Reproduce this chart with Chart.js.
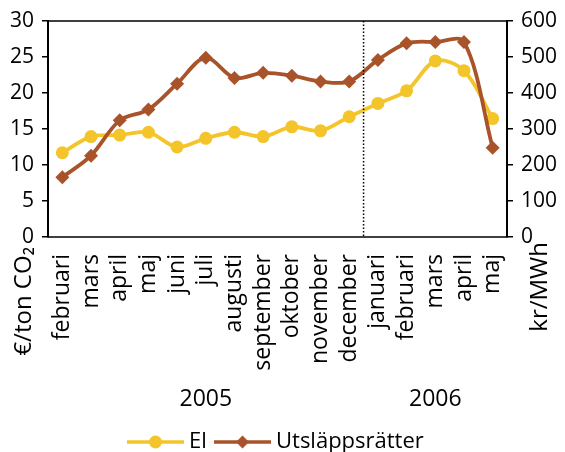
<!DOCTYPE html>
<html>
<head>
<meta charset="utf-8">
<script src="https://cdn.jsdelivr.net/npm/chart.js@4/dist/chart.umd.min.js"></script>
<style>
  html, body { margin: 0; padding: 0; background: #fff; }
  #wrap { width: 565px; height: 452px; position: relative; }
</style>
</head>
<body>
<div id="wrap"><canvas id="myChart"></canvas></div>
<script>
var months = ['februari', 'mars', 'april', 'maj', 'juni', 'juli', 'augusti', 'september',
              'oktober', 'november', 'december', 'januari', 'februari', 'mars', 'april', 'maj'];
// year label and how many months belong to it
var years = ['2005', '2006'];
var yearSpans = [11, 5];

var utslapp = [8.3, 11.3, 16.2, 17.7, 21.3, 24.9, 22.1, 22.8, 22.4, 21.6, 21.6, 24.6, 26.9, 27.1, 27.1, 12.4];
var el = [234, 279, 283, 291, 250, 274, 291, 279, 306, 295, 334, 371, 406, 489, 462, 329];

var leftTicks = [0, 5, 10, 15, 20, 25, 30];
var rightTicks = [0, 100, 200, 300, 400, 500, 600];

var YELLOW = '#F4C52A';
var BROWN = '#A9532A';
var FONT = "'Open Sans', sans-serif";

var extras = {
    id: 'extras',
    afterDatasetsDraw: function (chart) {
        var ctx = chart.ctx, a = chart.chartArea, x = chart.scales.x;
        ctx.save();
        // frame
        ctx.strokeStyle = '#000';
        ctx.lineWidth = 1.5;
        ctx.strokeRect(a.left, a.top, a.right - a.left, a.bottom - a.top);
        // dotted divider between the years
        var xd = (x.getPixelForValue(yearSpans[0] - 1) + x.getPixelForValue(yearSpans[0])) / 2;
        ctx.setLineDash([1.5, 2]);
        ctx.beginPath();
        ctx.moveTo(xd, a.top);
        ctx.lineTo(xd, a.bottom);
        ctx.stroke();
        ctx.restore();
    },
    afterDraw: function (chart) {
        var ctx = chart.ctx, x = chart.scales.x;
        ctx.save();
        ctx.fillStyle = '#000';
        ctx.font = '24px ' + FONT;
        // rotated axis titles
        ctx.textAlign = 'right';
        ctx.textBaseline = 'middle';
        [['€/ton CO₂', 24, 247], ['kr/MWh', 540, 242]].forEach(function (t) {
            ctx.save();
            ctx.translate(t[1], t[2]);
            ctx.rotate(-Math.PI / 2);
            ctx.fillText(t[0], 0, 0);
            ctx.restore();
        });
        // year labels
        ctx.font = '23px ' + FONT;
        ctx.textAlign = 'center';
        var start = 0;
        years.forEach(function (y, i) {
            var end = start + yearSpans[i] - 1;
            var cx = (x.getPixelForValue(start) + x.getPixelForValue(end)) / 2;
            ctx.fillText(y, cx, 399);
            start = end + 1;
        });
        // legend
        var items = [
            { label: 'El', color: YELLOW, style: 'circle', x0: 127 },
            { label: 'Utsläppsrätter', color: BROWN, style: 'rectRot', x0: 214 }
        ];
        var ly = 442;
        ctx.font = '22px ' + FONT;
        ctx.textAlign = 'left';
        items.forEach(function (it) {
            ctx.strokeStyle = it.color;
            ctx.lineWidth = 3.5;
            ctx.beginPath();
            ctx.moveTo(it.x0, ly);
            ctx.lineTo(it.x0 + 57, ly);
            ctx.stroke();
            ctx.fillStyle = it.color;
            Chart.helpers.drawPoint(ctx, { pointStyle: it.style, radius: 6.5, borderWidth: 0 }, it.x0 + 28.5, ly);
            ctx.fillStyle = '#000';
            ctx.fillText(it.label, it.x0 + 62, ly);
        });
        ctx.restore();
    }
};

var ctx = document.getElementById('myChart').getContext('2d');
var myChart = new Chart(ctx, {
    type: 'line',
    data: {
        labels: months,
        datasets: [{
            label: 'Utsläppsrätter',
            data: utslapp,
            yAxisID: 'y',
            borderColor: BROWN,
            backgroundColor: BROWN,
            borderWidth: 3.8,
            pointStyle: 'rectRot',
            pointRadius: 7,
            pointBorderWidth: 0,
            tension: 0.33
        }, {
            label: 'El',
            data: el,
            yAxisID: 'y1',
            borderColor: YELLOW,
            backgroundColor: YELLOW,
            borderWidth: 3.8,
            pointStyle: 'circle',
            pointRadius: 6.5,
            pointBorderWidth: 0,
            tension: 0.33
        }]
    },
    options: {
        responsive: true,
        maintainAspectRatio: false,
        animation: false,
        events: [],
        layout: { padding: { top: 21, left: 0, right: 0, bottom: 0 } },
        plugins: {
            legend: { display: false },
            tooltip: { enabled: false }
        },
        scales: {
            x: {
                offset: true,
                grid: { display: false, drawTicks: false },
                border: { display: false },
                ticks: {
                    color: '#000',
                    font: { family: FONT, size: 23 },
                    minRotation: 90,
                    maxRotation: 90,
                    autoSkip: false,
                    padding: 17
                },
                afterFit: function (s) { s.height = 215; }
            },
            y: {
                position: 'left',
                min: 0,
                max: 30,
                afterBuildTicks: function (s) { s.ticks = leftTicks.map(function (v) { return { value: v }; }); },
                grid: { drawOnChartArea: false, color: '#000', lineWidth: 1.5, tickLength: 6 },
                border: { color: '#000', width: 2 },
                ticks: { color: '#000', font: { family: FONT, size: 21 }, padding: 8 },
                afterFit: function (s) { s.width = 48; }
            },
            y1: {
                position: 'right',
                min: 0,
                max: 600,
                afterBuildTicks: function (s) { s.ticks = rightTicks.map(function (v) { return { value: v }; }); },
                grid: { drawOnChartArea: false, color: '#000', lineWidth: 1.5, tickLength: 6 },
                border: { color: '#000', width: 2 },
                ticks: { color: '#000', font: { family: FONT, size: 21 }, padding: 8 },
                afterFit: function (s) { s.width = 58; }
            }
        }
    },
    plugins: [extras]
});
</script>
</body>
</html>
